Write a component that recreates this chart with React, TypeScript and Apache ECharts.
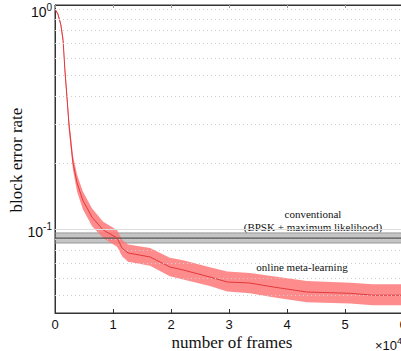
import React, { useEffect, useRef } from "react";
import * as echarts from "echarts";

const frames = [0, 500, 1000, 1400, 1700, 2100, 2400, 3100, 3800, 4800, 6400, 8300, 10700, 11600, 12600, 16400, 19800, 22100, 26700, 29700, 33600, 37600, 43400, 50900, 54800, 60000];
const meanBler = [1.0, 0.95, 0.85, 0.72, 0.53, 0.386, 0.3, 0.2, 0.162, 0.135, 0.113, 0.099, 0.091, 0.0816, 0.0778, 0.0746, 0.0672, 0.0651, 0.0605, 0.0574, 0.0568, 0.0545, 0.0517, 0.051, 0.05, 0.05];
const upperBler = [1.0, 0.96, 0.87, 0.75, 0.56, 0.41, 0.32, 0.215, 0.177, 0.148, 0.124, 0.108, 0.099, 0.089, 0.085, 0.082, 0.074, 0.072, 0.067, 0.064, 0.063, 0.061, 0.058, 0.057, 0.056, 0.056];
const lowerBler = [0.99, 0.94, 0.83, 0.69, 0.5, 0.365, 0.28, 0.186, 0.148, 0.123, 0.103, 0.091, 0.083, 0.075, 0.071, 0.068, 0.061, 0.059, 0.055, 0.052, 0.051, 0.049, 0.0465, 0.0458, 0.045, 0.045];

const conventionalMean = 0.0909;
const conventionalLow = 0.0863;
const conventionalHigh = 0.096;

const minorGrid = [0.05, 0.06, 0.07, 0.08, 0.09, 0.2, 0.3, 0.4, 0.5, 0.6, 0.7, 0.8, 0.9, 1.0];
const xTicks = [0, 1, 2, 3, 4, 5, 6];

export default function App() {
  const ref = useRef<HTMLDivElement>(null);
  useEffect(() => {
    if (!ref.current) return;
    const chart = echarts.init(ref.current, null, { renderer: "svg" });
    const serif = "Liberation Serif";
    const sans = "Liberation Sans";
    const option: any = {
      animation: false,
      grid: {
        left: 55,
        top: 5,
        width: 348,
        height: 308,
        outerBoundsMode: "none",
        containLabel: false,
        show: true,
        borderColor: "#333",
        borderWidth: 1,
        backgroundColor: "transparent",
      },
      xAxis: [
        {
          type: "value",
          min: 0,
          max: 60000,
          interval: 10000,
          axisLine: { lineStyle: { color: "#333" } },
          axisTick: { inside: true, length: 4, lineStyle: { color: "#333" } },
          splitLine: { show: false },
          axisLabel: {
            margin: 5,
            color: "#111",
            fontFamily: sans,
            fontSize: 13,
            formatter: (v: number) => String(xTicks[Math.round(v / 10000)]),
          },
        },
        {
          type: "value",
          position: "top",
          min: 0,
          max: 60000,
          interval: 10000,
          axisLine: { lineStyle: { color: "#333" } },
          axisTick: { inside: true, length: 3, lineStyle: { color: "#999" } },
          splitLine: { show: false },
          axisLabel: { show: false },
        },
      ],
      yAxis: {
        type: "log",
        logBase: 10,
        min: 0.0415,
        max: 1.043,
        axisLine: { show: true, lineStyle: { color: "#333" } },
        axisTick: { show: false },
        splitLine: { show: false },
        axisLabel: {
          showMinLabel: false,
          showMaxLabel: false,
          margin: 3,
          color: "#111",
          fontFamily: sans,
          formatter: (v: number) => {
            const e = Math.round(Math.log10(v));
            if (Math.abs(Math.log10(v) - e) > 0.001) return "";
            return "{b|10}{s|" + e + "}";
          },
          rich: {
            b: { fontSize: 14, fontFamily: sans, color: "#111", padding: [6, 0, 0, 0] },
            s: { fontSize: 10, fontFamily: sans, color: "#111", padding: [0, 0, 4, 0] },
          },
        },
      },
      series: [
        {
          type: "line",
          data: [[0, 1]],
          symbol: "none",
          lineStyle: { opacity: 0 },
          silent: true,
          z: 1,
          markLine: {
            symbol: "none",
            silent: true,
            label: { show: false },
            lineStyle: { color: "#cfcfcf", type: [1, 3], width: 1 },
            data: minorGrid.map((v) => ({ yAxis: v })),
          },
        },
        {
          type: "line",
          data: [[0, 0.1]],
          symbol: "none",
          lineStyle: { opacity: 0 },
          silent: true,
          z: 1,
          markLine: {
            symbol: "none",
            silent: true,
            label: { show: false },
            lineStyle: { color: "#dedede", type: "solid", width: 1 },
            data: [{ yAxis: 0.1 }],
          },
        },
        {
          type: "custom",
          z: 2,
          data: [[0, 1]],
          renderItem: (params: any, api: any) => {
            if (params.dataIndex !== 0) return null;
            const pts: number[][] = [];
            for (let i = 0; i < frames.length; i++) pts.push(api.coord([frames[i], upperBler[i]]));
            for (let i = frames.length - 1; i >= 0; i--) pts.push(api.coord([frames[i], lowerBler[i]]));
            return {
              type: "polygon",
              shape: { points: pts },
              style: { fill: "rgba(255,120,120,0.85)", stroke: "none" },
            };
          },
        },
        {
          type: "line",
          data: [[0, conventionalMean], [60000, conventionalMean]],
          symbol: "none",
          z: 3,
          lineStyle: { color: "#555", width: 1.2 },
          markArea: {
            silent: true,
            itemStyle: { color: "rgba(110,110,110,0.4)", borderColor: "#888", borderWidth: 0.8 },
            data: [[{ yAxis: conventionalLow }, { yAxis: conventionalHigh }]],
          },
        },
        {
          type: "line",
          data: frames.map((f, i) => [f, meanBler[i]]),
          symbol: "none",
          z: 4,
          lineStyle: { color: "#e0393c", width: 1 },
        },
      ],
      graphic: [
        {
          type: "text",
          x: 313,
          y: 214,
          style: { text: "conventional", font: `11px "${serif}"`, fill: "#111", align: "center", verticalAlign: "middle" },
        },
        {
          type: "text",
          x: 313,
          y: 227,
          style: { text: "(BPSK + maximum likelihood)", font: `11px "${serif}"`, fill: "#111", align: "center", verticalAlign: "middle" },
        },
        {
          type: "text",
          x: 302,
          y: 267,
          style: { text: "online meta-learning", font: `11px "${serif}"`, fill: "#111", align: "center", verticalAlign: "middle" },
        },
        {
          type: "text",
          x: 232,
          y: 342,
          style: { text: "number of frames", font: `17px "${serif}"`, fill: "#111", align: "center", verticalAlign: "middle" },
        },
        {
          type: "text",
          x: 16,
          y: 160,
          rotation: Math.PI / 2,
          style: { text: "block error rate", font: `17px "${serif}"`, fill: "#111", align: "center", verticalAlign: "middle" },
        },
        {
          type: "text",
          x: 375,
          y: 343,
          style: {
            text: "{a|×10}{b|4}",
            rich: {
              a: { fontSize: 13, fontFamily: sans, fill: "#111", padding: [5, 0, 0, 0] },
              b: { fontSize: 9, fontFamily: sans, fill: "#111", padding: [0, 0, 5, 0] },
            },
            verticalAlign: "middle",
          },
        },
      ],
    };
    chart.setOption(option);
    return () => chart.dispose();
  }, []);
  return <div ref={ref} style={{ width: 401, height: 351, position: "absolute", left: 0, top: 0 }} />;
}
